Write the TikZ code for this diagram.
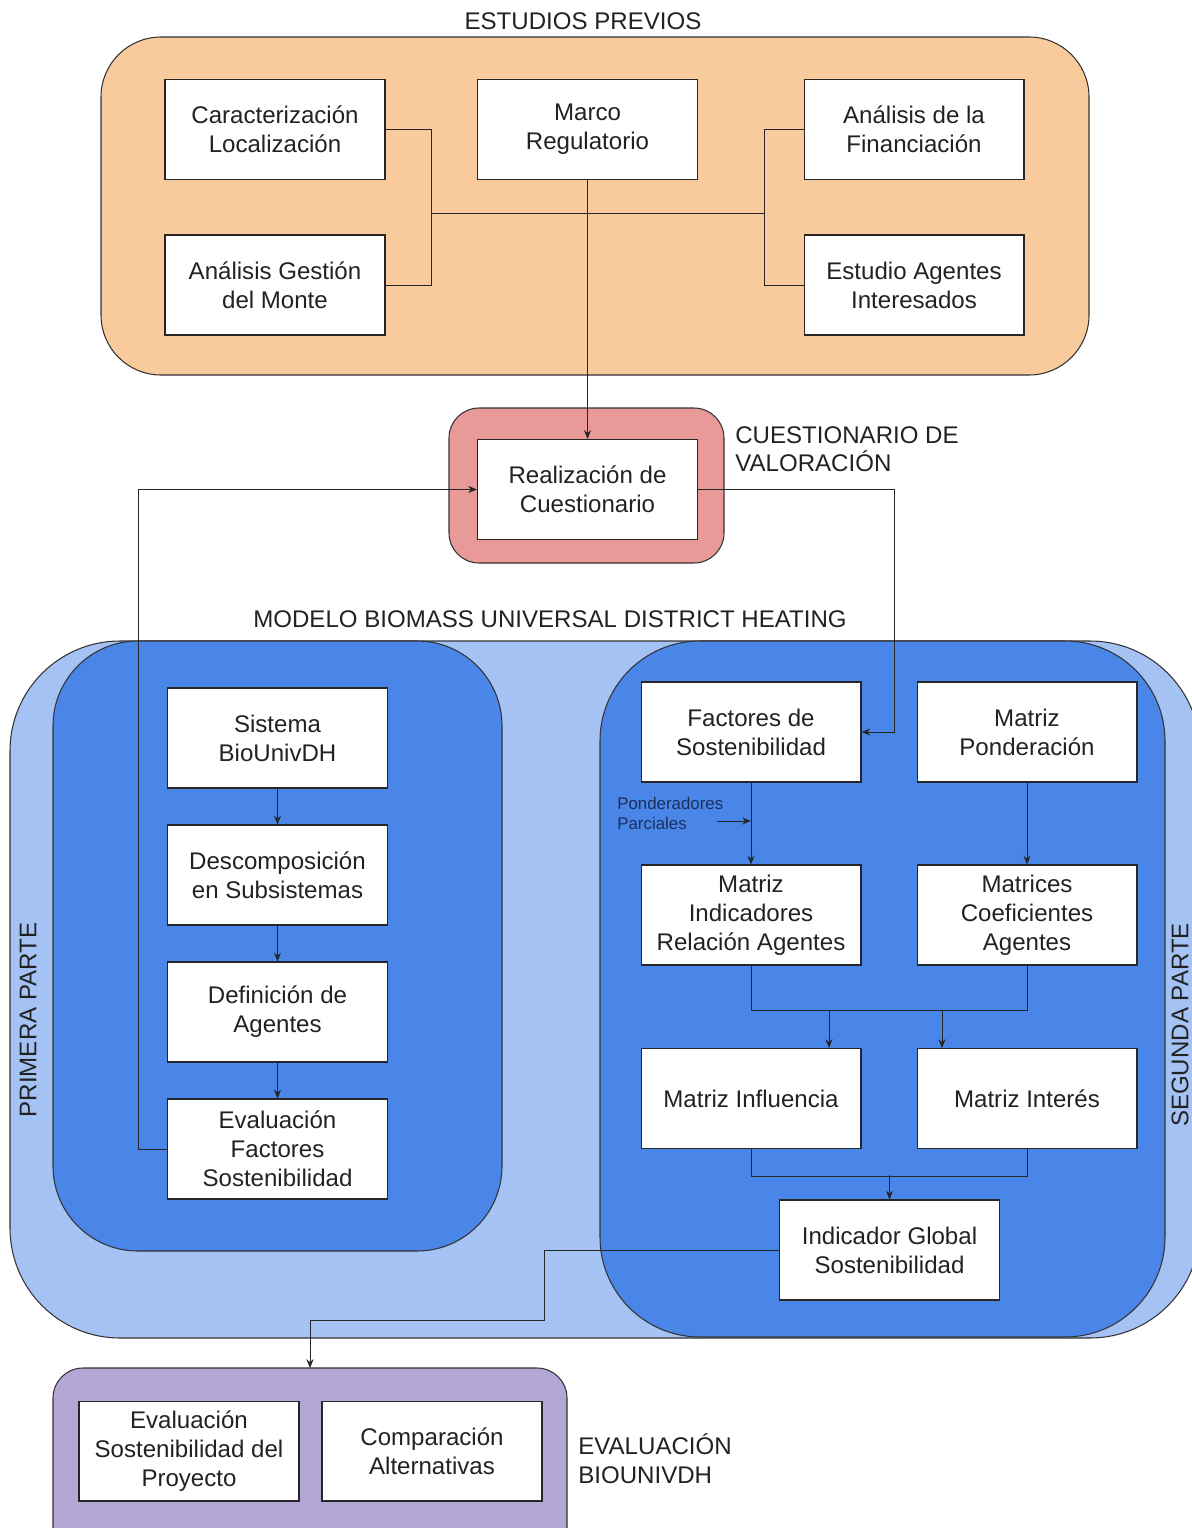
\documentclass[tikz,border=0pt]{standalone}
\usepackage{fontspec}
\setmainfont{Liberation Sans}
\usetikzlibrary{arrows.meta}

\definecolor{naranja}{HTML}{F9CB9C}
\definecolor{rojo}{HTML}{EA9999}
\definecolor{azulclaro}{HTML}{A4C2F4}
\definecolor{azul}{HTML}{4A86E8}
\definecolor{morado}{HTML}{B4A7D6}
\definecolor{texto}{HTML}{222222}
\definecolor{marino}{HTML}{1B2F5C}

\tikzset{
  caja/.style={draw=black!85, line width=0.6pt, fill=white, minimum width=4.4cm,
    minimum height=2cm, align=center, inner sep=2pt, text=texto,
    font=\fontsize{13.7}{16.4}\selectfont},
  marco/.style={draw=black!80, line width=0.6pt},
  titulo/.style={text=texto, font=\fontsize{13.7}{16.4}\selectfont, inner sep=0pt},
  linea/.style={line width=0.5pt, draw=black!85},
  flecha/.style={linea, -{Stealth[length=5pt,width=4pt]}}
}

\begin{document}
\begin{tikzpicture}[x=0.02cm, y=-0.02cm]
  \clip (0,0) rectangle (1192,1528);
  \fill[white] (0,0) rectangle (1192,1528);

  % contenedores
  \draw[marco, fill=naranja, rounded corners=1.2cm] (101,37) rectangle (1089,375);
  \draw[marco, fill=rojo, rounded corners=0.6cm] (449,408) rectangle (724,563);
  \draw[marco, fill=azulclaro, rounded corners=2.2cm] (10,641) rectangle (1200,1338);
  \draw[marco, fill=azul, rounded corners=1.7cm] (53,641) rectangle (502,1251);
  \draw[marco, fill=azul, rounded corners=2cm] (600,641) rectangle (1165,1337);
  \draw[marco, fill=morado, rounded corners=0.6cm] (53,1368) rectangle (567,1560);

  % titulos
  \node[titulo] (tprev) at (583,21) {ESTUDIOS PREVIOS};
  \node[titulo, anchor=north west, align=left] (tcuest) at (735,426) {CUESTIONARIO DE\\VALORACIÓN};
  \node[titulo] (tmodelo) at (550,619) {MODELO BIOMASS UNIVERSAL DISTRICT HEATING};
  \node[titulo, rotate=90] (tprim) at (28,1020) {PRIMERA PARTE};
  \node[titulo, rotate=90] (tseg) at (1180,1025) {SEGUNDA PARTE};
  \node[titulo, anchor=north west, align=left] (teval) at (578,1433) {EVALUACIÓN\\BIOUNIVDH};

  % estudios previos
  \node[caja] (caract) at (275,129.5) {Caracterización\\Localización};
  \node[caja] (marcoreg) at (587.5,129.5) {Marco\\Regulatorio};
  \node[caja] (financ) at (914,129.5) {Análisis de la\\Financiación};
  \node[caja] (gestion) at (275,285) {Análisis Gestión\\del Monte};
  \node[caja] (estudio) at (914,285) {Estudio Agentes\\Interesados};

  % cuestionario
  \node[caja] (realiz) at (587.5,489.5) {Realización de\\Cuestionario};

  % primera parte
  \node[caja] (sistema) at (277.5,738) {Sistema\\BioUnivDH};
  \node[caja] (descomp) at (277.5,875) {Descomposición\\en Subsistemas};
  \node[caja] (defin) at (277.5,1012) {Definición de\\Agentes};
  \node[caja] (evalfac) at (277.5,1149) {Evaluación\\Factores\\Sostenibilidad};

  % segunda parte
  \node[caja] (factores) at (751,732) {Factores de\\Sostenibilidad};
  \node[caja] (ponder) at (1027,732) {Matriz\\Ponderación};
  \node[caja] (matind) at (751,915) {Matriz\\Indicadores\\Relación Agentes};
  \node[caja] (matcoef) at (1027,915) {Matrices\\Coeficientes\\Agentes};
  \node[caja] (influ) at (751,1098.5) {Matriz Influencia};
  \node[caja] (interes) at (1027,1098.5) {Matriz Interés};
  \node[caja] (indic) at (889.5,1250) {Indicador Global\\Sostenibilidad};
  \node[anchor=north west, align=left, inner sep=0pt, text=marino,
    font=\fontsize{9.6}{11.5}\selectfont] (pondlbl) at (617,797) {Ponderadores\\Parciales};

  % evaluacion
  \node[caja] (evalsost) at (189,1451) {Evaluación\\Sostenibilidad del\\Proyecto};
  \node[caja] (compar) at (432,1451) {Comparación\\Alternativas};

  % conexiones estudios previos
  \coordinate (jl) at (431,213);
  \coordinate (jr) at (765,213);
  \draw[linea] (caract.east) -- ++(46,0) |- (gestion.east);
  \draw[linea] (financ.west) -- ++(-39,0) |- (estudio.west);
  \draw[linea] (jl) -- (jr);
  \draw[flecha] (marcoreg.south) -- (realiz.north);

  % lazo del cuestionario
  \draw[flecha] (evalfac.west) -- ++(-29,0) |- (realiz.west);
  \draw[flecha] (realiz.east) -- ++(196,0) |- (factores.east);

  % primera parte
  \draw[flecha] (sistema) -- (descomp);
  \draw[flecha] (descomp) -- (defin);
  \draw[flecha] (defin) -- (evalfac);

  % segunda parte
  \coordinate (pp) at (717,821);
  \draw[flecha] (factores) -- (matind);
  \draw[flecha] (pp) -- (pp -| factores.south);
  \draw[flecha] (ponder) -- (matcoef);
  \coordinate (m1) at (829,1010);
  \coordinate (m2) at (942,1010);
  \coordinate (m3) at (889.5,1175);
  \draw[linea] (matind.south) -- ++(0,45) -| (matcoef.south);
  \draw[flecha] (m1) -- (m1 |- influ.north);
  \draw[flecha] (m2) -- (m2 |- interes.north);
  \draw[linea] (influ.south) -- ++(0,27) -| (interes.south);
  \draw[flecha] (m3) -- (indic.north);

  % hacia la evaluacion
  \coordinate (ptop) at (310,1368);
  \draw[flecha] (indic.west) -- ++(-235,0) |- (310,1320) -- (ptop);
\end{tikzpicture}
\end{document}
